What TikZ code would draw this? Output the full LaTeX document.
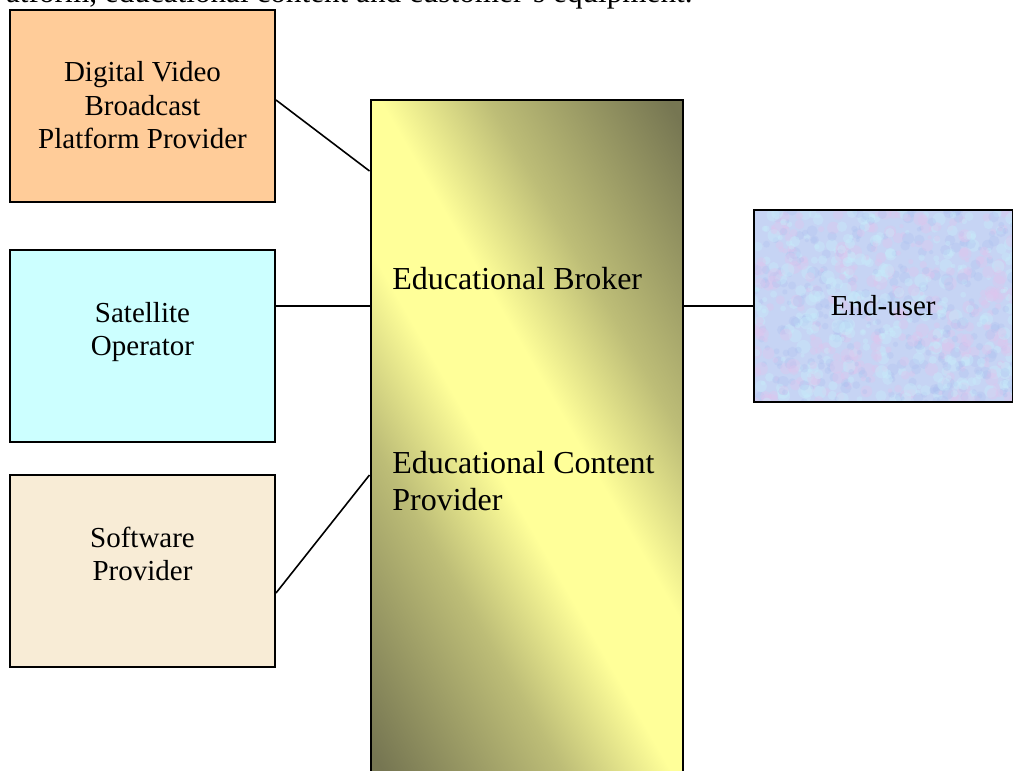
\documentclass[tikz,border=0pt]{standalone}
\usepackage{fontspec}
\setmainfont{Liberation Serif}
\usepackage{tikz}
\usetikzlibrary{positioning,calc}

\definecolor{peach}{RGB}{255,204,153}
\definecolor{paleaqua}{RGB}{204,255,255}
\definecolor{parchment}{RGB}{248,236,214}
\definecolor{tissue}{RGB}{198,212,244}
\definecolor{tissuepink}{RGB}{222,198,238}
\definecolor{tissuecyan}{RGB}{198,236,250}
\definecolor{tissueblue}{RGB}{172,192,240}
\definecolor{lemon}{RGB}{255,255,153}
\definecolor{darkolive}{RGB}{118,118,82}

\pgfdeclareverticalshading{brokershade}{100bp}{%
  color(0bp)=(darkolive); color(36bp)=(darkolive);
  color(43.5bp)=(lemon!52!darkolive); color(48bp)=(lemon);
  color(52bp)=(lemon); color(56.5bp)=(lemon!52!darkolive);
  color(64bp)=(darkolive); color(100bp)=(darkolive)}

\begin{document}
\begin{tikzpicture}[
    x=0.5pt, y=-0.5pt,
    node distance=120pt,
    font=\fontsize{14.5}{16.75}\selectfont,
    party/.style={
		rectangle,
		draw=black,
		line width=1pt,
		align=center,
		minimum width=132.5pt,
		minimum height=96pt,
		inner sep=0pt
	},
    brokerbox/.style={
		rectangle,
		draw=black,
		line width=1pt,
		minimum width=156.25pt,
		minimum height=338pt,
		path picture={
		  \shade [shading=brokershade,
		    transform canvas={rotate around={-60:(path picture bounding box.center)}}]
		    ($(path picture bounding box.center)+(-520,-520)$) rectangle
		    ($(path picture bounding box.center)+(520,520)$);
		}
	},
    tissuebox/.style={
		fill=tissue,
		path picture={
		  \pgfmathsetseed{7}
		  \foreach \k in {1,...,300}{
		    \fill [tissuepink, opacity=0.4]
		      ($(path picture bounding box.center)+(rand*130,rand*97)$) circle (2+rnd*5);
		    \fill [tissuecyan, opacity=0.4]
		      ($(path picture bounding box.center)+(rand*130,rand*97)$) circle (2+rnd*5);
		    \fill [tissueblue, opacity=0.3]
		      ($(path picture bounding box.center)+(rand*130,rand*97)$) circle (2+rnd*4);
		  }
		}
	},
    bigtext/.style={
		font=\fontsize{16}{18.5}\selectfont,
		inner sep=0pt
	},
    link/.style={
		line width=0.8pt
	}
  ]
  \useasboundingbox (0,0) rectangle (1013,771);

  % last line of the page text above the figure
  \node [bigtext, font=\fontsize{15.6}{18}\selectfont, anchor=base east] (pagetext) at (693,3)
    {atform, educational content and customer's equipment.};

  % We start by placing the blocks
  \node [party, fill=peach] (dvb) at (142.5,105.5)
    {Digital Video\\Broadcast\\Platform Provider};
  \node [party, fill=paleaqua, below of=dvb] (satellite)
    {Satellite\\Operator\\~};
  \node [party, fill=parchment, below of=satellite, yshift=7.5pt] (software)
    {Software\\Provider\\~};

  \node [brokerbox] (broker) at (526.75,437.5) {};
  \node [bigtext, anchor=base west] (brokertext) at (392,289)
    {Educational Broker};
  \node [bigtext, anchor=base west, align=left] (contenttext) at (392,510)
    {Educational Content\\Provider};

  \node [party, tissuebox, minimum width=129.25pt] (enduser) at (883.25,306)
    {End-user};

  \draw [link] ([yshift=2.75pt]dvb.east) -- ([yshift=-36.25pt]broker.north west);
  \draw [link] (satellite.east |- enduser.west) -- (broker.west |- enduser.west);
  \draw [link] ([yshift=-11.25pt]software.east) -- ([yshift=-188.25pt]broker.north west);
  \draw [link] (broker.east |- enduser.west) -- (enduser.west);

\end{tikzpicture}
\end{document}
